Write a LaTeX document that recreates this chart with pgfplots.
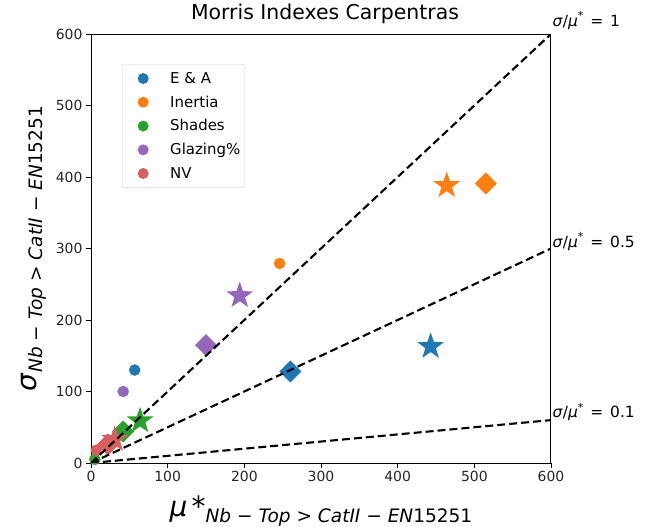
\documentclass[border=0pt]{standalone}
\usepackage{fontspec}
\setmainfont{DejaVu Sans}
\usepackage{pgfplots}
\pgfplotsset{compat=1.18}
\definecolor{cblue}{HTML}{1F77B4}
\definecolor{corange}{HTML}{FF7F0E}
\definecolor{cgreen}{HTML}{2CA02C}
\definecolor{cpurple}{HTML}{9467BD}
\definecolor{cred}{HTML}{D65F5F}
\pgfdeclareplotmark{fstar}{%
  \pgfpathmoveto{\pgfpointpolar{90}{\pgfplotmarksize}}%
  \pgfpathlineto{\pgfpointpolar{126}{0.4\pgfplotmarksize}}%
  \pgfpathlineto{\pgfpointpolar{162}{\pgfplotmarksize}}%
  \pgfpathlineto{\pgfpointpolar{198}{0.4\pgfplotmarksize}}%
  \pgfpathlineto{\pgfpointpolar{234}{\pgfplotmarksize}}%
  \pgfpathlineto{\pgfpointpolar{270}{0.4\pgfplotmarksize}}%
  \pgfpathlineto{\pgfpointpolar{306}{\pgfplotmarksize}}%
  \pgfpathlineto{\pgfpointpolar{342}{0.4\pgfplotmarksize}}%
  \pgfpathlineto{\pgfpointpolar{18}{\pgfplotmarksize}}%
  \pgfpathlineto{\pgfpointpolar{54}{0.4\pgfplotmarksize}}%
  \pgfpathclose\pgfusepathqfill}
\pgfdeclareplotmark{fdiam}{%
  \pgfpathmoveto{\pgfqpoint{0pt}{\pgfplotmarksize}}%
  \pgfpathlineto{\pgfqpoint{\pgfplotmarksize}{0pt}}%
  \pgfpathlineto{\pgfqpoint{0pt}{-\pgfplotmarksize}}%
  \pgfpathlineto{\pgfqpoint{-\pgfplotmarksize}{0pt}}%
  \pgfpathclose\pgfusepathqfill}
\newcommand{\subtxt}{\textit{Nb} − \textit{Top} > \textit{CatII} − \textit{EN}15251}
\newcommand{\ratio}[1]{\textit{σ}/\textit{μ}\raisebox{0.45em}{\fontsize{11}{11}\selectfont *}\hspace{0.45em}=\hspace{0.45em}#1}
\newcommand{\legimg}[1]{\addlegendimage{legend image code/.code={\path[draw=none,fill=none] (0bp,0bp) -- (44bp,0bp); \fill[draw=none,#1] (19bp,0bp) circle (5.5bp);}}}
\begin{document}
\begin{tikzpicture}
\useasboundingbox (0,0) rectangle (651bp,527bp);
\begin{axis}[
  at={(91bp,64bp)}, anchor=south west,
  width=460bp, height=429bp, scale only axis,
  xmin=0, xmax=600, ymin=0, ymax=600,
  xtick={0,100,...,600}, ytick={0,100,...,600},
  tick align=outside, tick pos=left,
  major tick length=5bp,
  tick style={black, line width=0.9bp},
  axis line style={black, line width=1bp},
  ticklabel style={font=\fontsize{14}{14}\selectfont, text=black!85},
  /pgf/number format/assume math mode=true,
  clip mode=individual,
  title={Morris Indexes Carpentras},
  title style={font=\fontsize{20.5}{22}\selectfont, at={(rel axis cs:0.5,1)}, anchor=base, yshift=9bp, xshift=4bp},
  legend style={at={(rel axis cs:0.0674,0.930)}, anchor=north west, draw=black!18, rounded corners=2bp,
    font=\fontsize{15}{15}\selectfont, row sep=7bp, inner xsep=2bp, inner ysep=6bp,
    cells={anchor=west}},
]
\legimg{cblue}
\addlegendentry{E \& A}
\legimg{corange}
\addlegendentry{Inertia}
\legimg{cgreen}
\addlegendentry{Shades}
\legimg{cpurple}
\addlegendentry{Glazing\%\hspace{3bp}}
\legimg{cred}
\addlegendentry{NV}
% circles
\addplot[forget plot, only marks, mark=*, mark size=5.5bp, draw=cblue, fill=cblue] coordinates {(57,130)};
\addplot[forget plot, only marks, mark=*, mark size=5.5bp, draw=corange, fill=corange] coordinates {(246,279)};
\addplot[forget plot, only marks, mark=*, mark size=5.5bp, draw=cgreen, fill=cgreen] coordinates {(5,5)};
\addplot[forget plot, only marks, mark=*, mark size=5.5bp, draw=cpurple, fill=cpurple] coordinates {(42,100)};
\addplot[forget plot, only marks, mark=*, mark size=5.5bp, draw=cred, fill=cred] coordinates {(7,18)};
% diamonds
\addplot[forget plot, only marks, mark=fdiam, mark size=11bp, fill=cblue] coordinates {(260,128)};
\addplot[forget plot, only marks, mark=fdiam, mark size=11bp, fill=corange] coordinates {(515,391)};
\addplot[forget plot, only marks, mark=fdiam, mark size=11bp, fill=cgreen] coordinates {(42,44)};
\addplot[forget plot, only marks, mark=fdiam, mark size=11bp, fill=cpurple] coordinates {(150,165)};
\addplot[forget plot, only marks, mark=fdiam, mark size=11bp, fill=cred] coordinates {(22,26)};
% stars
\addplot[forget plot, only marks, mark=fstar, mark size=14bp, fill=cblue] coordinates {(443,163)};
\addplot[forget plot, only marks, mark=fstar, mark size=14bp, fill=corange] coordinates {(464,388)};
\addplot[forget plot, only marks, mark=fstar, mark size=14bp, fill=cgreen] coordinates {(64,59)};
\addplot[forget plot, only marks, mark=fstar, mark size=14bp, fill=cpurple] coordinates {(194,234)};
\addplot[forget plot, only marks, mark=fstar, mark size=14bp, fill=cred] coordinates {(31,33)};
% ratio lines
\addplot[forget plot, black, line width=2.1bp, dash pattern=on 8bp off 4bp] coordinates {(0,0) (600,600)};
\addplot[forget plot, black, line width=2.1bp, dash pattern=on 8bp off 4bp] coordinates {(0,0) (600,300)};
\addplot[forget plot, black, line width=2.1bp, dash pattern=on 8bp off 4bp] coordinates {(0,0) (600,60)};
\node[anchor=base west, inner sep=0pt, xshift=1.5bp, font=\fontsize{15.5}{16}\selectfont] at (axis cs:600,610) {\ratio{1}};
\node[anchor=base west, inner sep=0pt, xshift=1.5bp, font=\fontsize{15.5}{16}\selectfont] at (axis cs:600,301) {\ratio{0.5}};
\node[anchor=base west, inner sep=0pt, xshift=1.5bp, font=\fontsize{15.5}{16}\selectfont] at (axis cs:600,63) {\ratio{0.1}};
% axis labels
\node[anchor=base, inner sep=0pt, yshift=-53bp] at (rel axis cs:0.5,0)
  {{\fontsize{28}{28}\selectfont\textit{μ}\hspace{0.15em}*}\raisebox{-6bp}{\fontsize{18.6}{19}\selectfont\subtxt}};
\node[xshift=-55bp, rotate=90, anchor=base, inner sep=0pt] at (rel axis cs:0,0.5)
  {{\fontsize{28}{28}\selectfont\textit{σ}}\raisebox{-6bp}{\fontsize{18.6}{19}\selectfont\subtxt}};
\end{axis}
\end{tikzpicture}
\end{document}
